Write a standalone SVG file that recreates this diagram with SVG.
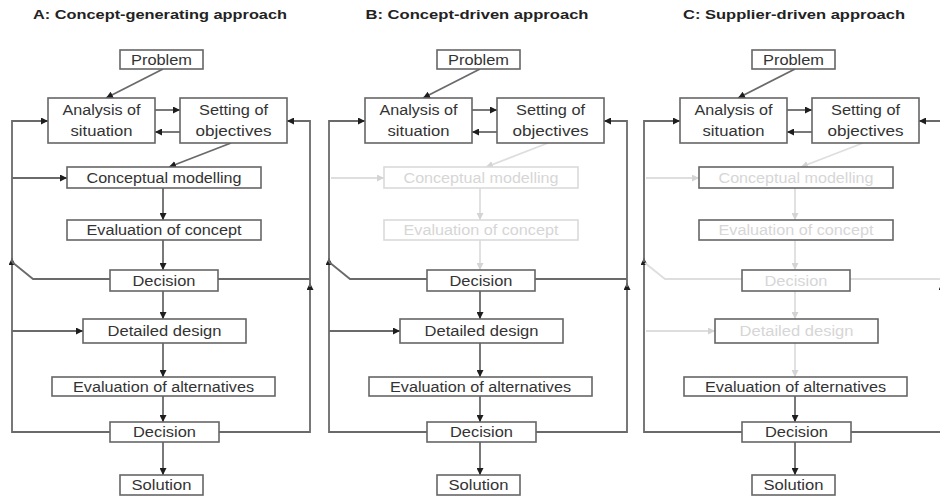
<svg xmlns="http://www.w3.org/2000/svg" width="940" height="498" viewBox="0 0 940 498">
  <style>
    .bg { fill: #ffffff; }
    .box { fill: #ffffff; stroke: #666666; stroke-width: 1.6; }
    .box.faint { stroke: #dadada; }
    .lbl { font-family: "Liberation Sans", Arial, sans-serif; font-size: 14px; fill: #333333; text-anchor: middle; }
    .lbl.faint { fill: #d6d6d6; }
    .ttl { font-family: "Liberation Sans", Arial, sans-serif; font-size: 13px; font-weight: bold; fill: #222222; text-anchor: middle; }
    .ln { fill: none; stroke: #6a6a6a; stroke-width: 1.8; marker-end: url(#ah); }
    .ln.plain { marker-end: none; }
    .ln.faint { stroke: #dedede; marker-end: url(#ahf); }
    .ln.faint.plain { marker-end: none; }
  </style>
  <defs>
    <marker id="ah" viewBox="0 0 8 8" refX="8" refY="4" markerWidth="7" markerHeight="7" markerUnits="userSpaceOnUse" orient="auto">
      <path d="M0,0 L8,4 L0,8 Z" fill="#1e1e1e"/>
    </marker>
    <marker id="ahf" viewBox="0 0 8 8" refX="8" refY="4" markerWidth="7" markerHeight="7" markerUnits="userSpaceOnUse" orient="auto">
      <path d="M0,0 L8,4 L0,8 Z" fill="#d4d4d4"/>
    </marker>
  </defs>

  <rect class="bg" x="0" y="0" width="940" height="498"/>

  <!-- Panel A: every step active -->
  <g id="panel-a">
    <text class="ttl" x="160" y="19" textLength="254" lengthAdjust="spacingAndGlyphs">A: Concept-generating approach</text>
    <g id="a-connectors">
      <path class="ln" d="M163,69 L106,98"/>
      <path class="ln" d="M155,110 L180,110"/>
      <path class="ln" d="M180,132 L155,132"/>
      <path class="ln" d="M231,143 L169,167"/>
      <path class="ln" d="M163,188 L163,220"/>
      <path class="ln" d="M163,240 L163,270"/>
      <path class="ln" d="M163,291 L163,319"/>
      <path class="ln" d="M163,343 L163,377"/>
      <path class="ln" d="M163,396 L163,422"/>
      <path class="ln" d="M163,442 L163,475"/>
      <path class="ln" d="M110,432 L12,432 L12,258"/>
      <path class="ln" d="M12,262 L12,121 L48,121"/>
      <path class="ln" d="M219,432 L310,432 L310,283"/>
      <path class="ln" d="M310,287 L310,121 L287,121"/>
      <path class="ln" d="M12,178 L67,178"/>
      <path class="ln" d="M12,331 L83,331"/>
      <path class="ln plain" d="M110,279 L33,279 L12,262"/>
      <path class="ln plain" d="M218,279 L310,279"/>
    </g>
    <g id="a-problem"><rect class="box" x="120" y="50" width="83" height="19"/><text class="lbl" x="161.5" y="64.5" textLength="61" lengthAdjust="spacingAndGlyphs">Problem</text></g>
    <g id="a-analysis"><rect class="box" x="48" y="98" width="107" height="45"/><text class="lbl" x="101.5" y="115" textLength="78" lengthAdjust="spacingAndGlyphs">Analysis of</text><text class="lbl" x="101.5" y="136" textLength="62" lengthAdjust="spacingAndGlyphs">situation</text></g>
    <g id="a-setting"><rect class="box" x="180" y="98" width="107" height="45"/><text class="lbl" x="233.5" y="115" textLength="69" lengthAdjust="spacingAndGlyphs">Setting of</text><text class="lbl" x="233.5" y="136" textLength="76" lengthAdjust="spacingAndGlyphs">objectives</text></g>
    <g id="a-modelling"><rect class="box" x="67" y="167" width="194" height="21"/><text class="lbl" x="164" y="182.5" textLength="155" lengthAdjust="spacingAndGlyphs">Conceptual modelling</text></g>
    <g id="a-eval-concept"><rect class="box" x="67" y="220" width="194" height="20"/><text class="lbl" x="164" y="235" textLength="155" lengthAdjust="spacingAndGlyphs">Evaluation of concept</text></g>
    <g id="a-decision-1"><rect class="box" x="110" y="270" width="108" height="21"/><text class="lbl" x="164" y="285.5" textLength="63" lengthAdjust="spacingAndGlyphs">Decision</text></g>
    <g id="a-detailed"><rect class="box" x="83" y="319" width="163" height="24"/><text class="lbl" x="164.5" y="336" textLength="114" lengthAdjust="spacingAndGlyphs">Detailed design</text></g>
    <g id="a-eval-alt"><rect class="box" x="52" y="377" width="223" height="19"/><text class="lbl" x="163.5" y="391.5" textLength="181" lengthAdjust="spacingAndGlyphs">Evaluation of alternatives</text></g>
    <g id="a-decision-2"><rect class="box" x="110" y="422" width="109" height="20"/><text class="lbl" x="164.5" y="437" textLength="63" lengthAdjust="spacingAndGlyphs">Decision</text></g>
    <g id="a-solution"><rect class="box" x="120" y="475" width="83" height="20"/><text class="lbl" x="161.5" y="490" textLength="60" lengthAdjust="spacingAndGlyphs">Solution</text></g>
  </g>

  <!-- Panel B: concept stage greyed out -->
  <g id="panel-b" transform="translate(317,0)">
    <text class="ttl" x="160" y="19" textLength="223" lengthAdjust="spacingAndGlyphs">B: Concept-driven approach</text>
    <g id="b-connectors">
      <path class="ln" d="M163,69 L106,98"/>
      <path class="ln" d="M155,110 L180,110"/>
      <path class="ln" d="M180,132 L155,132"/>
      <path class="ln faint" d="M231,143 L169,167"/>
      <path class="ln faint" d="M163,188 L163,220"/>
      <path class="ln faint" d="M163,240 L163,270"/>
      <path class="ln" d="M163,291 L163,319"/>
      <path class="ln" d="M163,343 L163,377"/>
      <path class="ln" d="M163,396 L163,422"/>
      <path class="ln" d="M163,442 L163,475"/>
      <path class="ln" d="M110,432 L12,432 L12,258"/>
      <path class="ln" d="M12,262 L12,121 L48,121"/>
      <path class="ln" d="M219,432 L310,432 L310,283"/>
      <path class="ln" d="M310,287 L310,121 L287,121"/>
      <path class="ln faint" d="M14,178 L67,178"/>
      <path class="ln" d="M12,331 L83,331"/>
      <path class="ln plain" d="M110,279 L33,279 L12,262"/>
      <path class="ln plain" d="M218,279 L310,279"/>
    </g>
    <g id="b-problem"><rect class="box" x="120" y="50" width="83" height="19"/><text class="lbl" x="161.5" y="64.5" textLength="61" lengthAdjust="spacingAndGlyphs">Problem</text></g>
    <g id="b-analysis"><rect class="box" x="48" y="98" width="107" height="45"/><text class="lbl" x="101.5" y="115" textLength="78" lengthAdjust="spacingAndGlyphs">Analysis of</text><text class="lbl" x="101.5" y="136" textLength="62" lengthAdjust="spacingAndGlyphs">situation</text></g>
    <g id="b-setting"><rect class="box" x="180" y="98" width="107" height="45"/><text class="lbl" x="233.5" y="115" textLength="69" lengthAdjust="spacingAndGlyphs">Setting of</text><text class="lbl" x="233.5" y="136" textLength="76" lengthAdjust="spacingAndGlyphs">objectives</text></g>
    <g id="b-modelling"><rect class="box faint" x="67" y="167" width="194" height="21"/><text class="lbl faint" x="164" y="182.5" textLength="155" lengthAdjust="spacingAndGlyphs">Conceptual modelling</text></g>
    <g id="b-eval-concept"><rect class="box faint" x="67" y="220" width="194" height="20"/><text class="lbl faint" x="164" y="235" textLength="155" lengthAdjust="spacingAndGlyphs">Evaluation of concept</text></g>
    <g id="b-decision-1"><rect class="box" x="110" y="270" width="108" height="21"/><text class="lbl" x="164" y="285.5" textLength="63" lengthAdjust="spacingAndGlyphs">Decision</text></g>
    <g id="b-detailed"><rect class="box" x="83" y="319" width="163" height="24"/><text class="lbl" x="164.5" y="336" textLength="114" lengthAdjust="spacingAndGlyphs">Detailed design</text></g>
    <g id="b-eval-alt"><rect class="box" x="52" y="377" width="223" height="19"/><text class="lbl" x="163.5" y="391.5" textLength="181" lengthAdjust="spacingAndGlyphs">Evaluation of alternatives</text></g>
    <g id="b-decision-2"><rect class="box" x="110" y="422" width="109" height="20"/><text class="lbl" x="164.5" y="437" textLength="63" lengthAdjust="spacingAndGlyphs">Decision</text></g>
    <g id="b-solution"><rect class="box" x="120" y="475" width="83" height="20"/><text class="lbl" x="161.5" y="490" textLength="60" lengthAdjust="spacingAndGlyphs">Solution</text></g>
  </g>

  <!-- Panel C: concept and design stages greyed out -->
  <g id="panel-c" transform="translate(632,0)">
    <text class="ttl" x="162" y="19" textLength="222" lengthAdjust="spacingAndGlyphs">C: Supplier-driven approach</text>
    <g id="c-connectors">
      <path class="ln" d="M163,69 L106,98"/>
      <path class="ln" d="M155,110 L180,110"/>
      <path class="ln" d="M180,132 L155,132"/>
      <path class="ln faint" d="M231,143 L169,167"/>
      <path class="ln faint" d="M163,188 L163,220"/>
      <path class="ln faint" d="M163,240 L163,270"/>
      <path class="ln faint" d="M163,291 L163,319"/>
      <path class="ln faint" d="M163,343 L163,377"/>
      <path class="ln" d="M163,396 L163,422"/>
      <path class="ln" d="M163,442 L163,475"/>
      <path class="ln" d="M110,432 L12,432 L12,258"/>
      <path class="ln" d="M12,262 L12,121 L48,121"/>
      <path class="ln" d="M219,432 L310,432 L310,283"/>
      <path class="ln" d="M310,287 L310,121 L287,121"/>
      <path class="ln faint" d="M14,178 L67,178"/>
      <path class="ln faint" d="M14,331 L83,331"/>
      <path class="ln faint plain" d="M110,279 L33,279 L13,263"/>
      <path class="ln faint plain" d="M218,279 L309,279"/>
    </g>
    <g id="c-problem"><rect class="box" x="120" y="50" width="83" height="19"/><text class="lbl" x="161.5" y="64.5" textLength="61" lengthAdjust="spacingAndGlyphs">Problem</text></g>
    <g id="c-analysis"><rect class="box" x="48" y="98" width="107" height="45"/><text class="lbl" x="101.5" y="115" textLength="78" lengthAdjust="spacingAndGlyphs">Analysis of</text><text class="lbl" x="101.5" y="136" textLength="62" lengthAdjust="spacingAndGlyphs">situation</text></g>
    <g id="c-setting"><rect class="box" x="180" y="98" width="107" height="45"/><text class="lbl" x="233.5" y="115" textLength="69" lengthAdjust="spacingAndGlyphs">Setting of</text><text class="lbl" x="233.5" y="136" textLength="76" lengthAdjust="spacingAndGlyphs">objectives</text></g>
    <g id="c-modelling"><rect class="box" x="67" y="167" width="194" height="21"/><text class="lbl faint" x="164" y="182.5" textLength="155" lengthAdjust="spacingAndGlyphs">Conceptual modelling</text></g>
    <g id="c-eval-concept"><rect class="box" x="67" y="220" width="194" height="20"/><text class="lbl faint" x="164" y="235" textLength="155" lengthAdjust="spacingAndGlyphs">Evaluation of concept</text></g>
    <g id="c-decision-1"><rect class="box" x="110" y="270" width="108" height="21"/><text class="lbl faint" x="164" y="285.5" textLength="63" lengthAdjust="spacingAndGlyphs">Decision</text></g>
    <g id="c-detailed"><rect class="box" x="83" y="319" width="163" height="24"/><text class="lbl faint" x="164.5" y="336" textLength="114" lengthAdjust="spacingAndGlyphs">Detailed design</text></g>
    <g id="c-eval-alt"><rect class="box" x="52" y="377" width="223" height="19"/><text class="lbl" x="163.5" y="391.5" textLength="181" lengthAdjust="spacingAndGlyphs">Evaluation of alternatives</text></g>
    <g id="c-decision-2"><rect class="box" x="110" y="422" width="109" height="20"/><text class="lbl" x="164.5" y="437" textLength="63" lengthAdjust="spacingAndGlyphs">Decision</text></g>
    <g id="c-solution"><rect class="box" x="120" y="475" width="83" height="20"/><text class="lbl" x="161.5" y="490" textLength="60" lengthAdjust="spacingAndGlyphs">Solution</text></g>
  </g>
</svg>
